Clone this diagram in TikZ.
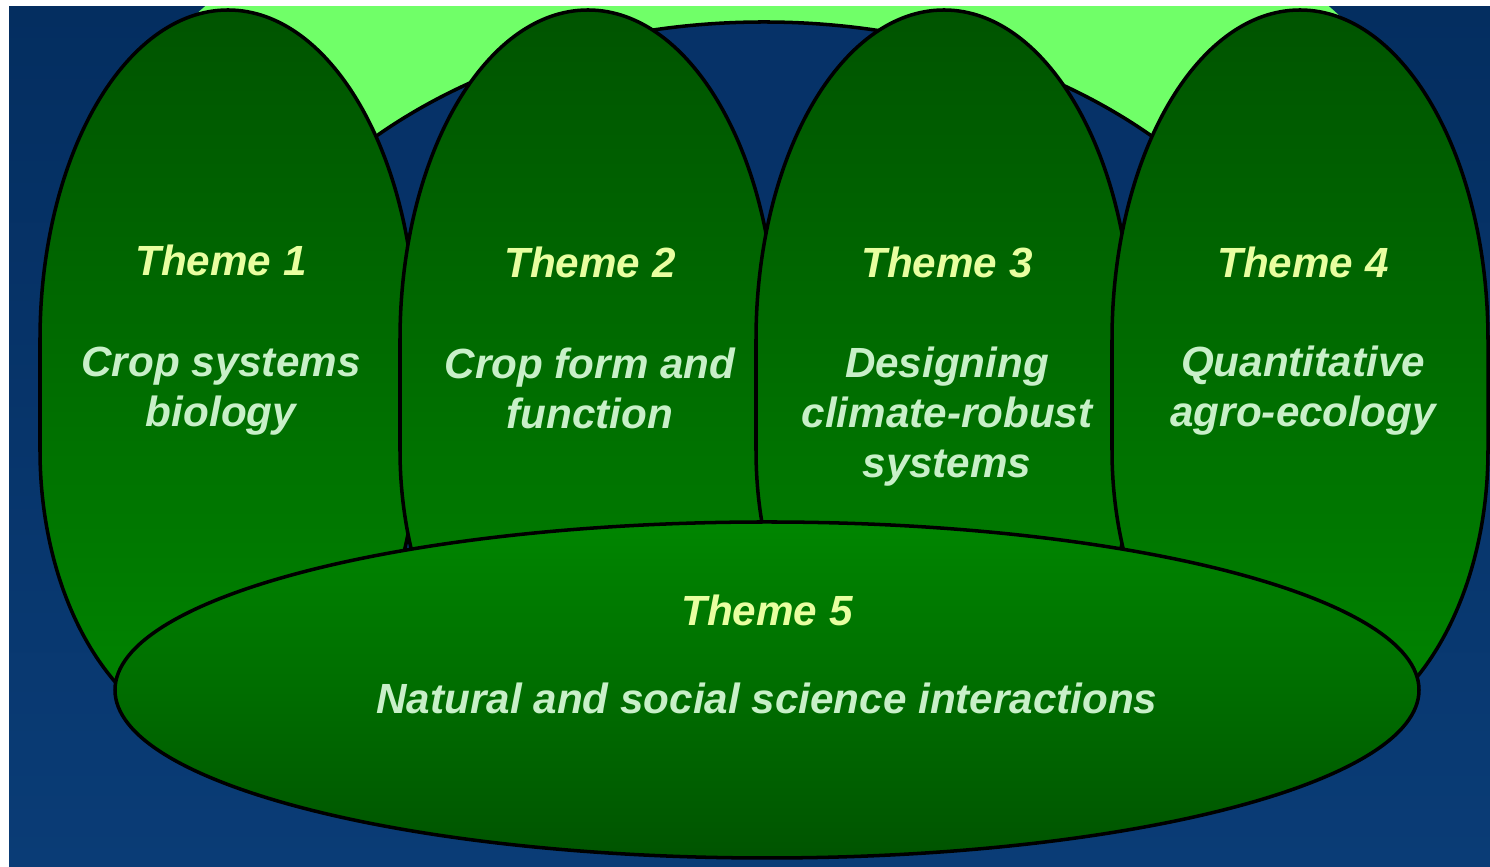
\documentclass[tikz,border=0pt]{standalone}
\usepackage{fontspec}
\setmainfont{Liberation Sans}
\usetikzlibrary{positioning}

\definecolor{skytop}{RGB}{4,46,96}
\definecolor{skybottom}{RGB}{10,60,118}
\definecolor{pondblue}{RGB}{6,50,104}
\definecolor{sprout}{RGB}{112,255,104}
\definecolor{leafdark}{RGB}{0,84,0}
\definecolor{leaflight}{RGB}{0,134,0}
\definecolor{headyellow}{RGB}{232,255,160}
\definecolor{mint}{RGB}{200,240,200}

\begin{document}
\begin{tikzpicture}[x=0.01cm, y=0.01cm,
    petal/.style={draw=black, line width=1pt, top color=leafdark, bottom color=leaflight},
    basin/.style={draw=black, line width=1pt, top color=leaflight, bottom color=leafdark},
    heading/.style={font=\bfseries\itshape\fontsize{12}{14}\selectfont, text=headyellow},
    body/.style={font=\bfseries\itshape\fontsize{12}{14.2}\selectfont, text=mint, align=center}]
    \useasboundingbox (0,0) rectangle (1490,867);
    \fill[white] (0,0) rectangle (1490,867);
    \begin{scope}
        \clip (9,0) rectangle (1490,860);
        \fill[top color=skytop, bottom color=skybottom] (9,0) rectangle (1490,860);
        \fill[sprout] (767,717) ellipse [x radius=640, y radius=300];
        \draw[fill=pondblue, line width=1pt] (764,437) ellipse [x radius=559, y radius=408];
        \foreach \cx in {228,588,944,1300}
            \draw[petal] (\cx+188,527) arc[start angle=0, end angle=180, x radius=188, y radius=330]
                -- (\cx-188,417) arc[start angle=180, end angle=360, x radius=188, y radius=290] -- cycle;
        \draw[basin] (767,177) ellipse [x radius=652, y radius=168];
    \end{scope}

    \node[heading] (h1) at (221,607) {Theme 1};
    \node[heading] (h2) at (590,605) {Theme 2};
    \node[heading] (h3) at (947,605) {Theme 3};
    \node[heading] (h4) at (1303,605) {Theme 4};
    \node[heading] (h5) at (767,257) {Theme 5};

    \node[body] (b1) at (221,476) {Crop systems\\biology};
    \node[body] (b2) at (590,479) {Crop form and\\function};
    \node[body] (b3) at (947,450) {Designing\\climate-robust\\systems};
    \node[body] (b4) at (1303,476) {Quantitative\\agro-ecology};
    \node[body] (b5) at (767,169) {Natural and social science interactions};
\end{tikzpicture}
\end{document}
